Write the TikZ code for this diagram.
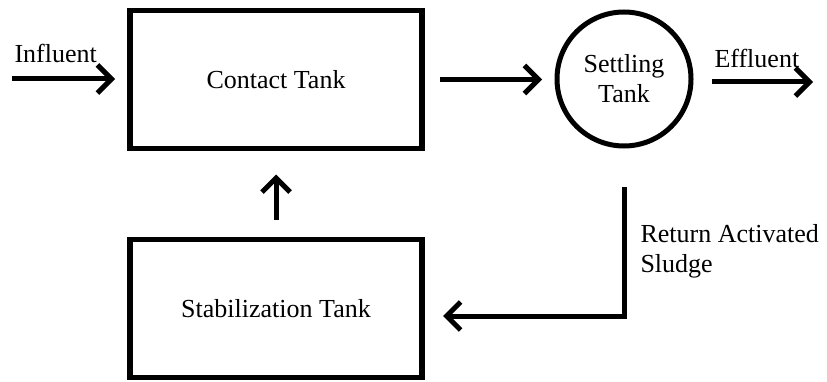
\documentclass[tikz,border=0pt]{standalone}
\usepackage{fontspec}
\setmainfont{Liberation Serif}
\usepackage{tikz}
\usetikzlibrary{arrows.meta,positioning}
\tikzstyle{block} = [rectangle, draw, line width=5.5pt,
align=center, inner sep=0pt, outer sep=0pt, minimum width=292pt, minimum height=138pt]
\tikzstyle{tank} = [circle, draw, line width=5pt,
align=center, inner sep=0pt, outer sep=0pt, minimum size=134pt]
\tikzstyle{line} = [draw, line width=5pt, -{Straight Barb[length=14pt,width=28pt]}]

\begin{document}
\begin{tikzpicture}[x=1pt, y=1pt, node distance=91pt, font=\fontsize{26}{30}\selectfont]
    \useasboundingbox (0,0) rectangle (827,381);
    % Nodes
    \node [block] (contact) at (276,301.5) {Contact Tank};
    \node [block, below=of contact] (stabilization) {Stabilization Tank};
    \node [tank] (settling) at (624,302) {Settling\\Tank};

    % free ends
    \coordinate (influent) at (12,302);
    \coordinate (effluent) at (813,299);

    % arrows
    \draw [line] (influent) to node[pos=0, anchor=south west, inner sep=0pt, yshift=14pt] (inlabel) {Influent} ([xshift=-15pt]contact.west |- influent);
    \draw [line] ([xshift=18pt]contact.east) to ([xshift=-15pt]settling.west |- contact.east);
    \draw [line] ([xshift=21pt]settling.east |- effluent) to node[pos=0, anchor=south west, inner sep=0pt, yshift=12pt] (outlabel) {Effluent} (effluent);
    \draw [line] ([yshift=20pt]stabilization.north) to ([yshift=-26pt]contact.south);

    \draw [line] ([yshift=-41pt]settling.south) |- node[pos=0.25, right, align=left, inner sep=0pt, xshift=14pt] (raslabel) {Return Activated\\Sludge} ([xshift=21pt,yshift=-7.5pt]stabilization.east);

\end{tikzpicture}
\end{document}
